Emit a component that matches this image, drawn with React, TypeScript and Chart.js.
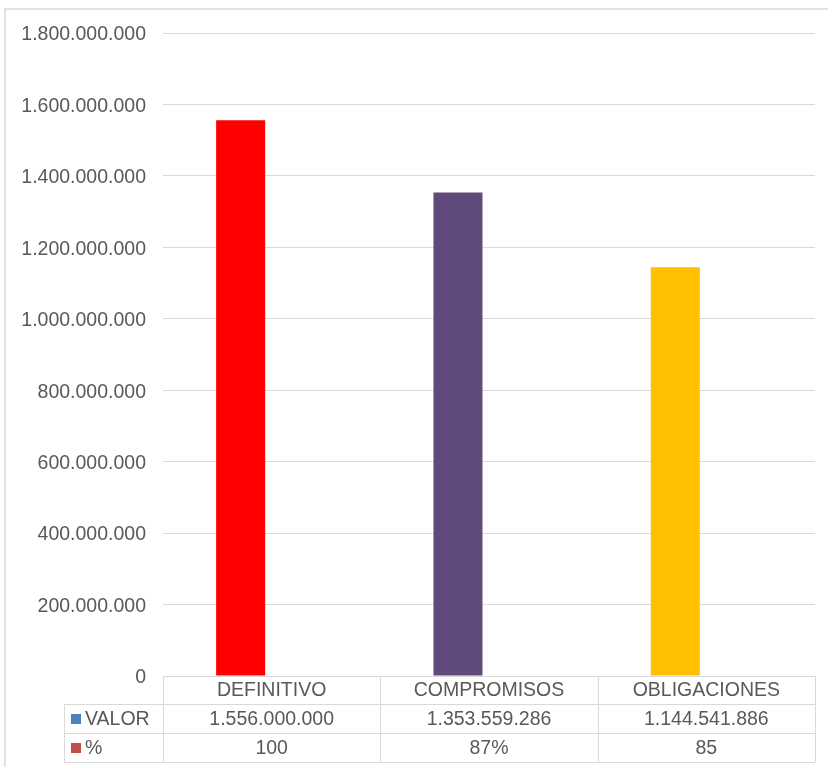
import React, { useEffect, useRef } from "react";
import { Chart, registerables } from "chart.js";

Chart.register(...registerables);

// ---- data ----
const categories = ["DEFINITIVO", "COMPROMISOS", "OBLIGACIONES"];
const valorValues = [1556000000, 1353559286, 1144541886];
const pctValues = [100, 87, 85];
const pctLabels = ["100", "87%", "85"];
const valorBarColors = ["#FF0000", "#604A7B", "#FFC000"];
const seriesNames = ["VALOR", "%"];
const seriesLegendColors = ["#4F81BD", "#C0504D"];
const yMin = 0;
const yMax = 1800000000;
const yStep = 200000000;

const TEXT = "#595959";
const LINE = "#D9D9D9";
const FAMILY = '"Liberation Sans", Arial, sans-serif';
const FONT_SIZE = 19.5;

function fmt(n: number): string {
  return Math.round(n).toString().replace(/\B(?=(\d{3})+(?!\d))/g, ".");
}

const framePlugin = {
  id: "frame",
  beforeDraw(chart: any) {
    const { ctx, width, height } = chart;
    ctx.save();
    ctx.fillStyle = "#FFFFFF";
    ctx.fillRect(0, 0, width, height);
    ctx.strokeStyle = LINE;
    ctx.lineWidth = 1.5;
    ctx.strokeRect(5, 9, width + 50, height + 50);
    ctx.restore();
  },
};

const tablePlugin = {
  id: "dataTable",
  afterDraw(chart: any) {
    const { ctx, chartArea } = chart;
    const left = chartArea.left;
    const right = chartArea.right;
    const n = categories.length;
    const colW = (right - left) / n;
    const legendLeft = 64;
    const y0 = chartArea.bottom;
    const y1 = y0 + 28;
    const y2 = y1 + 29;
    const y3 = y2 + 29;
    const a = (v: number) => Math.round(v) + 0.5;

    ctx.save();
    ctx.strokeStyle = LINE;
    ctx.lineWidth = 1;
    ctx.beginPath();
    ctx.moveTo(left, a(y0));
    ctx.lineTo(right, a(y0));
    [y1, y2, y3].forEach((y) => {
      ctx.moveTo(legendLeft, a(y));
      ctx.lineTo(right, a(y));
    });
    for (let i = 0; i <= n; i++) {
      const x = a(left + colW * i);
      ctx.moveTo(x, y0);
      ctx.lineTo(x, y3);
    }
    ctx.moveTo(a(legendLeft), y1);
    ctx.lineTo(a(legendLeft), y3);
    ctx.stroke();

    ctx.fillStyle = TEXT;
    ctx.font = `${FONT_SIZE}px ${FAMILY}`;
    ctx.textBaseline = "middle";
    ctx.textAlign = "center";
    const rowMid = [(y0 + y1) / 2, (y1 + y2) / 2, (y2 + y3) / 2];
    for (let i = 0; i < n; i++) {
      const cx = left + colW * (i + 0.5);
      ctx.fillText(categories[i], cx, rowMid[0] + 1);
      ctx.fillText(fmt(valorValues[i]), cx, rowMid[1] + 1);
      ctx.fillText(pctLabels[i], cx, rowMid[2] + 1);
    }
    ctx.textAlign = "left";
    for (let s = 0; s < seriesNames.length; s++) {
      const my = rowMid[s + 1];
      ctx.fillStyle = seriesLegendColors[s];
      ctx.fillRect(71, Math.round(my - 5), 10, 10);
      ctx.fillStyle = TEXT;
      ctx.fillText(seriesNames[s], 85, my + 1);
    }
    ctx.restore();
  },
};

export default function App() {
  const canvasRef = useRef<HTMLCanvasElement | null>(null);

  useEffect(() => {
    if (!canvasRef.current) return;
    Chart.defaults.font.family = FAMILY;
    const chart = new Chart(canvasRef.current, {
      type: "bar",
      data: {
        labels: categories,
        datasets: [
          {
            label: seriesNames[0],
            data: valorValues,
            backgroundColor: valorBarColors,
            borderWidth: 0,
            inflateAmount: 0,
          },
          {
            // the % series is on the same scale, so its bars are flat (invisible)
            label: seriesNames[1],
            data: pctValues,
            backgroundColor: "rgba(0,0,0,0)",
            borderWidth: 0,
            inflateAmount: 0,
          },
        ],
      },
      options: {
        responsive: false,
        animation: false,
        datasets: {
          bar: {
            categoryPercentage: 0.571,
            barPercentage: 0.79,
          },
        },
        layout: { padding: { left: 0, top: 33, right: 13, bottom: 91 } },
        plugins: {
          legend: { display: false },
          tooltip: { enabled: false },
          title: { display: false },
        },
        scales: {
          x: { display: false, offset: true },
          y: {
            min: yMin,
            max: yMax,
            border: { display: false },
            grid: { color: LINE, lineWidth: 1, drawTicks: false },
            ticks: {
              stepSize: yStep,
              padding: 17,
              labelOffset: 2,
              color: TEXT,
              font: { size: FONT_SIZE, family: FAMILY },
              callback: (v: any) => fmt(Number(v)),
            },
            afterFit: (scale: any) => {
              scale.width = 163;
            },
          },
        },
      },
      plugins: [framePlugin, tablePlugin],
    });
    return () => chart.destroy();
  }, []);

  return (
    <div style={{ position: "absolute", left: 0, top: 0, width: 828, height: 767, background: "#fff" }}>
      <canvas ref={canvasRef} width={828} height={767} style={{ display: "block" }} />
    </div>
  );
}
